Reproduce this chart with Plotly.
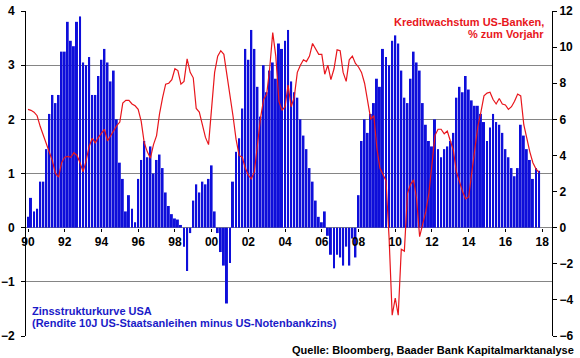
import pandas as pd
import plotly.graph_objects as go

# Zinsstrukturkurve USA (10J minus Fed Funds), Prozentpunkte, zweimonatlich
spread_1990s = [
    0.2, 0.55, 0.3, 0.35, 0.85, 0.85,
    1.45, 2.1, 2.45, 2.3, 2.45, 3.25,
    3.25, 3.8, 3.45, 3.35, 3.8, 3.9,
    3.05, 3.0, 3.15, 2.45, 2.45, 2.8,
    3.1, 3.3, 3.05, 2.7, 2.9, 2.0,
    1.2, 0.9, 0.3, 0.6, 0.35, 0.1,
    0.9, 1.25, 1.6, 1.3, 1.5, 1.0,
    1.25, 1.35, 1.1, 0.65, 0.4, 0.25,
    0.17, 0.15, 0.05, -0.35, -0.8, -0.1,
    0.5, 0.8, 0.65, 0.85, 0.8, 0.9,
]
spread_2000s = [
    1.15, 0.3, -0.1, -0.45, -0.7, -1.4,
    -0.65, 0.85, 1.4, 1.65, 2.2, 3.3,
    3.1, 3.65, 3.3, 2.6, 2.05, 3.0,
    2.5, 2.9, 3.05, 2.75, 3.4, 3.3,
    3.45, 3.65, 2.7, 2.5, 2.4, 2.0,
    1.7, 1.45, 1.1, 0.85, 0.5, 0.2,
    0.1, 0.3, -0.15, -0.5, -0.75, -0.5,
    -0.55, -0.7, -0.35, -0.7, -0.2, -0.55,
    0.6, 1.6, 2.0, 1.75, 2.1, 2.3,
    2.75, 2.6, 3.3, 3.15, 3.0, 3.45,
]
spread_2010s = [
    3.55, 3.4, 2.9, 2.4, 2.3, 2.75,
    3.25, 3.05, 2.9, 2.3, 1.9, 1.6,
    1.5, 2.0, 1.45, 1.3, 1.45, 1.5,
    1.6, 1.75, 2.4, 2.6, 2.5, 2.8,
    2.55, 2.35, 2.25, 2.25, 2.1, 1.95,
    1.6, 1.85, 2.1, 1.95, 1.9, 1.75,
    1.45, 1.3, 1.1, 0.95, 1.1, 1.9,
    1.7, 1.45, 1.25, 0.9, 1.1, 1.05,
]

# Kreditwachstum US-Banken, % zum Vorjahr, zweimonatlich
credit_1990s = [
    6.55, 6.5, 6.4, 6.2, 5.6, 5.1,
    4.6, 4.2, 3.7, 3.0, 2.8, 3.6,
    3.9, 3.95, 3.9, 4.15, 4.0, 3.6,
    3.1, 3.7, 4.5, 4.95, 4.7, 5.0,
    5.2, 5.45, 4.8, 5.1, 5.4, 5.65,
    5.85, 6.9, 7.05, 7.05, 6.85, 6.75,
    6.55, 5.9, 4.7, 4.2, 3.85, 4.6,
    5.1, 6.3, 7.2, 7.95, 8.0, 8.2,
    8.8, 8.7, 7.95, 8.1, 9.35, 8.6,
    8.3, 6.6, 6.4, 5.7, 5.0, 4.6,
]
credit_2000s = [
    6.5, 8.6, 9.5, 9.8, 9.6, 8.5,
    7.5, 6.2, 4.9, 4.0, 3.9, 3.3,
    2.9, 2.7, 3.1, 4.7, 6.1, 7.1,
    7.4, 8.8, 10.8, 9.5, 7.0, 6.5,
    6.7, 7.9, 6.7, 7.2, 8.6, 9.0,
    9.3, 9.2, 9.5, 10.2, 9.9, 9.6,
    9.6, 8.5, 9.0, 8.2, 8.8, 9.85,
    9.8, 8.6, 8.1, 9.3, 9.5, 9.1,
    8.9, 8.6, 8.0, 7.0, 6.0, 6.2,
    4.4, 3.3, 2.9, 2.6, -0.6, -4.85,
]
credit_2010s = [
    -3.9, -4.85, -1.2, -1.3, 1.9, 2.4,
    2.65, 1.6, -0.5, 0.2, 0.9, 1.9,
    3.5, 5.1, 5.45, 5.45, 5.2, 5.35,
    4.8, 4.3, 3.1, 2.5, 2.0, 1.6,
    1.7, 3.0, 4.3, 5.6, 6.4, 7.3,
    7.45, 7.5, 7.1, 6.85, 7.15, 6.85,
    6.8, 6.55, 6.7, 7.0, 7.4, 7.3,
    5.7, 4.9, 4.2, 3.6, 3.25, 3.05,
]

x_tick_years = list(range(1990, 2019, 2))
x_tick_labels = ["90", "92", "94", "96", "98", "00", "02", "04",
                 "06", "08", "10", "12", "14", "16", "18"]
left_ticks = [-2, -1, 0, 1, 2, 3, 4]
right_ticks = [-6, -4, -2, 0, 2, 4, 6, 8, 10, 12]

spread = spread_1990s + spread_2000s + spread_2010s
credit = credit_1990s + credit_2000s + credit_2010s
dates = pd.date_range("1990-01-01", periods=len(spread), freq="2MS")

FONT = "Liberation Sans, Arial, sans-serif"
BLUE = "#0E0EDA"
RED = "#E8161C"

fig = go.Figure()
fig.add_trace(go.Bar(
    x=dates, y=spread, yaxis="y",
    marker=dict(color=BLUE, line=dict(width=0)),
))
fig.add_trace(go.Scatter(
    x=dates, y=credit, yaxis="y2", mode="lines",
    line=dict(color=RED, width=1.2),
))

fig.update_layout(
    width=580, height=358,
    margin=dict(l=26, r=28, t=11, b=22),
    plot_bgcolor="white", paper_bgcolor="white",
    showlegend=False, bargap=0.33,
    font=dict(family=FONT, size=11, color="black"),
    xaxis=dict(
        type="date", automargin=False,
        range=["1989-11-22", "2018-07-16"],
        tickvals=[f"{y}-01-01" for y in x_tick_years],
        ticktext=x_tick_labels,
        anchor="free", position=1 / 3,
        showgrid=False, zeroline=False, showline=False,
        ticks="outside", ticklen=3, tickcolor="black",
        tickfont=dict(family=FONT, size=12, weight="bold"),
    ),
    yaxis=dict(
        range=[-2, 4], tickvals=left_ticks, automargin=False,
        showgrid=True, gridcolor="#858585", gridwidth=1,
        zeroline=True, zerolinecolor="#858585", zerolinewidth=1,
        showline=True, linecolor="black", linewidth=1,
        ticks="outside", ticklen=4, tickcolor="black",
        ticklabelstandoff=4,
        tickfont=dict(family=FONT, size=12, weight="bold"),
    ),
    yaxis2=dict(
        range=[-6, 12], tickvals=right_ticks, automargin=False,
        overlaying="y", side="right",
        showgrid=False, zeroline=False,
        showline=True, linecolor="black", linewidth=1,
        ticks="outside", ticklen=4, tickcolor="black",
        tickfont=dict(family=FONT, size=12, weight="bold"),
    ),
)

def py(px):
    return (335.7 - px) / 325.0

def pxx(px):
    return (px - 26) / 526.0

annots = [
    dict(text="<b>Kreditwachstum US-Banken,</b>", x=pxx(546), y=py(22), xanchor="right",
         font=dict(color=RED, size=11)),
    dict(text="<b>% zum Vorjahr</b>", x=pxx(546), y=py(34), xanchor="right",
         font=dict(color=RED, size=11)),
    dict(text="<b>Zinsstrukturkurve USA</b>", x=pxx(30), y=py(311), xanchor="left",
         font=dict(color="#1A1AC8", size=11)),
    dict(text="<b>(Rendite 10J US-Staatsanleihen minus US-Notenbankzins)</b>", x=pxx(30), y=py(322.7),
         xanchor="left", font=dict(color="#1A1AC8", size=11)),
    dict(text="<b>Quelle: Bloomberg, Baader Bank Kapitalmarktanalyse</b>", x=pxx(576), y=py(350),
         xanchor="right", font=dict(color="black", size=11)),
]
for a in annots:
    fig.add_annotation(xref="paper", yref="paper", yanchor="middle", showarrow=False,
                       font_family=FONT, **a)

fig.write_html("out.html", config={"displayModeBar": False},
               post_script="document.body.style.margin='0';")
